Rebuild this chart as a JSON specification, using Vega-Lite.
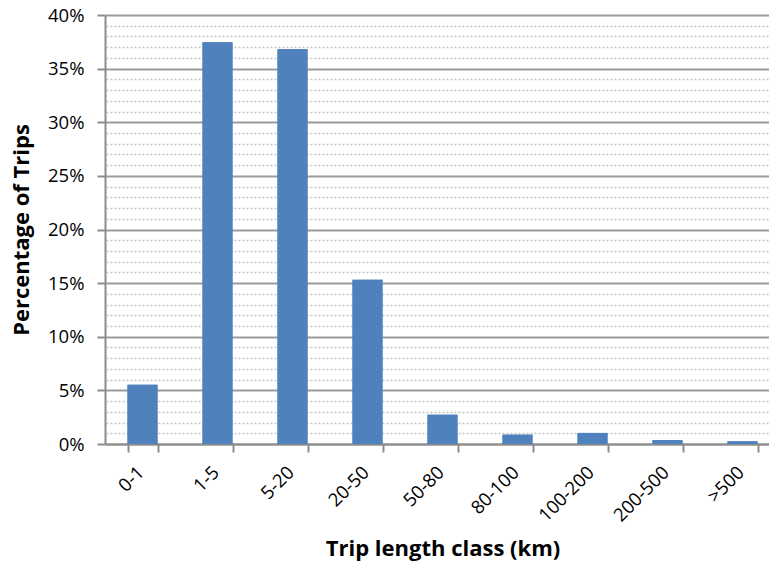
{
  "$schema": "https://vega.github.io/schema/vega-lite/v6.json",
  "width": 675,
  "height": 429,
  "autosize": {"type": "none"},
  "padding": {"left": 105, "top": 15, "right": 0, "bottom": 127},
  "background": "white",
  "config": {
    "view": {"stroke": null},
    "font": "Open Sans",
    "axis": {"labelFont": "Open Sans", "titleFont": "Open Sans"}
  },
  "data": {
    "values": [
      {"trip_class": "0-1", "share": 0.0553},
      {"trip_class": "1-5", "share": 0.3745},
      {"trip_class": "5-20", "share": 0.368},
      {"trip_class": "20-50", "share": 0.1532},
      {"trip_class": "50-80", "share": 0.0273},
      {"trip_class": "80-100", "share": 0.0087},
      {"trip_class": "100-200", "share": 0.0103},
      {"trip_class": "200-500", "share": 0.0037},
      {"trip_class": ">500", "share": 0.0025}
    ]
  },
  "encoding": {
    "x": {
      "field": "trip_class",
      "type": "nominal",
      "sort": null,
      "scale": {"paddingInner": 0.6, "paddingOuter": 0.3},
      "axis": {
        "title": "Trip length class (km)",
        "titleFontSize": 22,
        "titleFontWeight": "bold",
        "titleColor": "#000",
        "titlePadding": 14,
        "labelAngle": -45,
        "labelAlign": "right",
        "labelBaseline": "middle",
        "labelFontSize": 18.5,
        "labelColor": "#000",
        "labelPadding": 17,
        "labelOffset": -2,
        "bandPosition": 0,
        "tickBand": "extent",
        "domainColor": "#8c8c8c",
        "domainWidth": 2,
        "tickColor": "#8c8c8c",
        "tickWidth": 2,
        "tickSize": 8,
        "grid": false
      }
    }
  },
  "layer": [
    {
      "mark": {"type": "bar", "color": "#4F81BD"},
      "encoding": {
        "y": {
          "field": "share",
          "type": "quantitative",
          "scale": {"domain": [0, 0.4], "nice": false},
          "axis": {
            "title": "Percentage of Trips",
            "titleFontSize": 22,
            "titleFontWeight": "bold",
            "titleColor": "#000",
            "titlePadding": 14,
            "format": ".0%",
            "values": [0, 0.05, 0.1, 0.15, 0.2, 0.25, 0.3, 0.35, 0.4],
            "labelFontSize": 18.5,
            "labelColor": "#000",
            "labelPadding": 13,
            "domainColor": "#8c8c8c",
            "domainWidth": 2,
            "tickColor": "#8c8c8c",
            "tickWidth": 2,
            "tickSize": 8,
            "grid": true,
            "gridColor": "#9c9c9c",
            "gridWidth": 2,
            "zindex": 0
          }
        }
      }
    },
    {
      "mark": {"type": "bar", "opacity": 0},
      "encoding": {
        "y": {
          "field": "share",
          "type": "quantitative",
          "scale": {"domain": [0, 0.4], "nice": false},
          "axis": {
            "orient": "right",
            "title": null,
            "labels": false,
            "ticks": false,
            "domain": false,
            "values": [0.01, 0.02, 0.03, 0.04, 0.06, 0.07, 0.08, 0.09, 0.11, 0.12, 0.13, 0.14, 0.16, 0.17, 0.18, 0.19, 0.21, 0.22, 0.23, 0.24, 0.26, 0.27, 0.28, 0.29, 0.31, 0.32, 0.33, 0.34, 0.36, 0.37, 0.38, 0.39],
            "grid": true,
            "gridColor": "#c4c4c4",
            "gridWidth": 1.5,
            "gridDash": [2, 2],
            "zindex": 0
          }
        }
      }
    },
    {
      "mark": {"type": "bar", "color": "#4F81BD"},
      "encoding": {
        "y": {"field": "share", "type": "quantitative", "axis": null}
      }
    }
  ],
  "resolve": {"axis": {"y": "independent"}}
}
